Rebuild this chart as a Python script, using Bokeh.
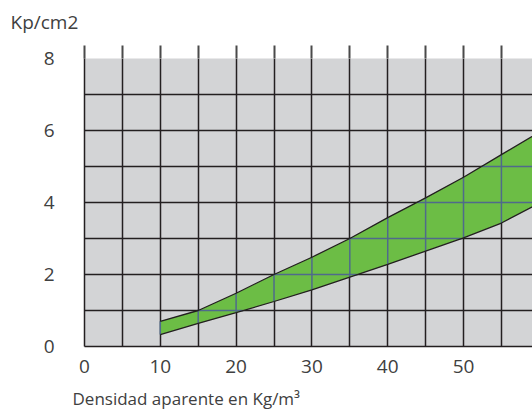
import numpy as np
from bokeh.plotting import figure
from bokeh.models import Range1d, FixedTicker, LinearAxis, Title, CustomLabelingPolicy
from bokeh.embed import file_html
from bokeh.resources import INLINE

# ---- data ----
density = [10, 15, 20, 25, 30, 35, 40, 45, 50, 55, 60]
upper = [0.70, 1.00, 1.48, 2.00, 2.48, 3.00, 3.58, 4.13, 4.70, 5.33, 5.95]
lower = [0.33, 0.64, 0.94, 1.25, 1.57, 1.93, 2.28, 2.65, 3.02, 3.43, 3.98]
x_labels = [0, 10, 20, 30, 40, 50, 60]
y_labels = [0, 2, 4, 6, 8]
x_grid = list(range(0, 65, 5))
y_grid = list(range(0, 9, 1))

FONT = "Open Sans"
TXT = "#404040"
DARK = "#231f20"

p = figure(width=532, height=419, output_backend="svg", toolbar_location=None,
           x_range=Range1d(0, 59.1), y_range=Range1d(0, 8),
           min_border_left=84, min_border_right=0, min_border_top=58,
           min_border_bottom=73)
p.background_fill_color = "#d3d4d6"
p.border_fill_color = "white"
p.outline_line_color = None

# grid
p.xgrid.ticker = FixedTicker(ticks=x_grid)
p.ygrid.ticker = FixedTicker(ticks=y_grid)
for g in (p.xgrid, p.ygrid):
    g.grid_line_color = DARK
    g.grid_line_width = 1.5
    g.grid_line_alpha = 1.0

# band
p.varea(x=density, y1=lower, y2=upper, fill_color="#6cbd45")

# bluish grid lines inside the band
xs_v, ys_v = [], []
for gx in x_grid:
    if density[0] <= gx <= density[-1]:
        lo = float(np.interp(gx, density, lower))
        hi = float(np.interp(gx, density, upper))
        xs_v.append([gx, gx]); ys_v.append([lo, hi])
dense = np.linspace(density[0], density[-1], 501)
lo_d = np.interp(dense, density, lower)
hi_d = np.interp(dense, density, upper)
for gy in y_grid:
    inside = dense[(lo_d <= gy) & (hi_d >= gy)]
    if len(inside) > 0:
        xs_v.append([float(inside.min()), float(inside.max())]); ys_v.append([gy, gy])
p.multi_line(xs=xs_v, ys=ys_v, line_color="#4f6a8c", line_width=1.5)

# band outlines
p.line(density, upper, line_color=DARK, line_width=1.3)
p.line(density, lower, line_color=DARK, line_width=1.3)

# bottom axis
xa = p.xaxis[0]
xa.ticker = FixedTicker(ticks=x_labels)
xa.major_tick_line_color = None
xa.major_tick_out = 0
xa.major_tick_in = 0
xa.minor_tick_line_color = None
xa.axis_line_color = DARK
xa.axis_line_width = 1.5
xa.major_label_standoff = 13
xa.major_label_text_font = FONT
xa.major_label_text_font_size = "19px"
xa.major_label_text_color = TXT

# left axis
ya = p.yaxis[0]
ya.ticker = FixedTicker(ticks=y_labels)
ya.major_tick_line_color = None
ya.minor_tick_line_color = None
ya.axis_line_color = DARK
ya.axis_line_width = 1.5
ya.major_label_standoff = 24
ya.major_label_text_font = FONT
ya.major_label_text_font_size = "19px"
ya.major_label_text_color = TXT

# top ticks (no labels)
no_labels = CustomLabelingPolicy(code="return new Set()")
top = LinearAxis(ticker=FixedTicker(ticks=x_grid), axis_line_color=None,
                 major_tick_in=0, major_tick_out=13,
                 major_tick_line_color="#4a4a4a", major_tick_line_width=2,
                 minor_tick_line_color=None, major_label_policy=no_labels,
                 major_label_standoff=0)
p.add_layout(top, "above")

# title (y unit)
p.title.text = "Kp/cm2"
p.title.align = "left"
p.title.offset = -74
p.title.standoff = 0
p.title.text_font = FONT
p.title.text_font_size = "19px"
p.title.text_font_style = "normal"
p.title.text_color = TXT

# x-axis caption
p.add_layout(Title(text="Densidad aparente en Kg/m³", align="left", offset=-12,
                   standoff=19,
                   text_font=FONT, text_font_size="17px", text_font_style="normal",
                   text_color=TXT), "below")

open("out.html", "w").write(file_html(p, INLINE))
